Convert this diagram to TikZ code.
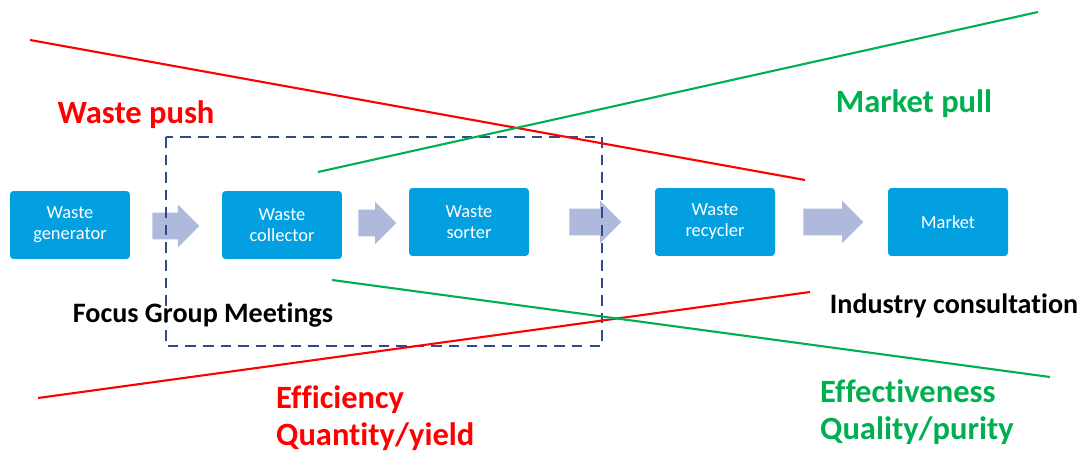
\documentclass[tikz,border=0pt]{standalone}
\usepackage{fontspec}
\setmainfont{Carlito}[Ligatures=NoCommon]
\usetikzlibrary{positioning,shapes.arrows}
\definecolor{boxblue}{RGB}{2,160,224}
\definecolor{flowgrey}{RGB}{175,185,220}
\definecolor{dashblue}{RGB}{47,75,140}
\definecolor{pullgreen}{RGB}{0,176,80}

\begin{document}
\begin{tikzpicture}[
x=0.02cm, y=-0.02cm,
stage/.style={
  fill=boxblue,
  rounded corners=2pt,
  minimum width=2.4cm,
  minimum height=1.36cm,
  text=white,
  align=center,
  font=\fontsize{10.5}{12}\selectfont},
flow/.style={
  single arrow,
  fill=flowgrey,
  anchor=tail,
  inner xsep=0pt,
  inner ysep=0.26cm,
  single arrow head extend=0.16cm,
  minimum height=#1},
pushtxt/.style={text=red, font=\bfseries\fontsize{18.5}{21}\selectfont},
pulltxt/.style={text=pullgreen, font=\bfseries\fontsize{18.5}{21}\selectfont},
meettxt/.style={font=\bfseries\fontsize{16}{18}\selectfont}
]
\useasboundingbox (0,0) rectangle (1084,456);
% stages of the chain
\node[stage] (gen) at (70,225) {Waste\\generator};
\node[stage] (col) at (282,225) {Waste\\collector};
\node[stage] (sor) at (469,222) {Waste\\sorter};
\node[stage] (rec) at (715,222) {Waste\\recycler};
\node[stage] (mkt) at (948,222) {Market};
% block arrows between them
\node[flow=0.94cm] (f1) at (152,226) {};
\node[flow=0.76cm] (f2) at (358,223) {};
\node[flow=1.04cm] (f3) at (569,222) {};
\node[flow=1.2cm] (f4) at (803,222) {};
% focus group area
\draw[dashblue, dash pattern=on 6pt off 4pt, line width=1.4pt] (166,137) rectangle (602,346);
% push and pull lines
\coordinate (PA) at (30,40);
\coordinate (PB) at (805,180);
\coordinate (PC) at (38,398);
\coordinate (PD) at (810,292);
\coordinate (MA) at (318,172);
\coordinate (MB) at (1038,12);
\coordinate (MC) at (332,280);
\coordinate (MD) at (1050,377);
\draw[red, line width=1.2pt] (PA) -- (PB);
\draw[red, line width=1.2pt] (PC) -- (PD);
\draw[pullgreen, line width=1.2pt] (MA) -- (MB);
\draw[pullgreen, line width=1.2pt] (MC) -- (MD);
% labels
\node[pushtxt] (push) at (136,115) {Waste push};
\node[pulltxt] (pull) at (914,104) {Market pull};
\node[meettxt] (fgm) at (203,315) {Focus Group Meetings};
\node[meettxt] (ind) at (954,306) {Industry consultation};
\node[pushtxt, anchor=west, align=left] (eff) at (270,418) {Efficiency\\Quantity/yield};
\node[pulltxt, anchor=west, align=left] (efv) at (814,412) {Effectiveness\\Quality/purity};
\end{tikzpicture}
\end{document}
